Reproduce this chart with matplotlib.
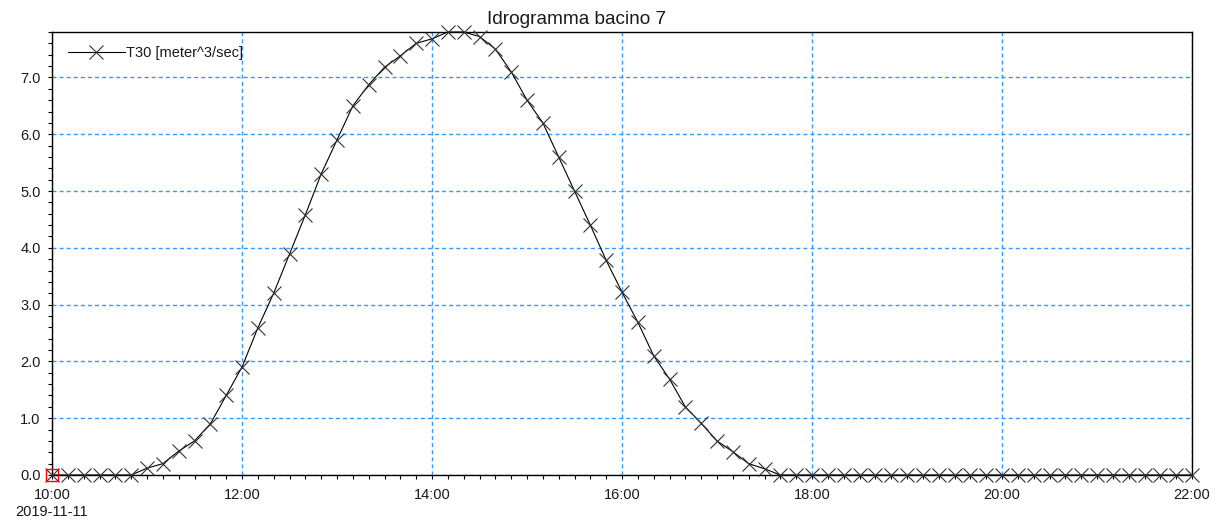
import numpy as np
import pandas as pd
import matplotlib
matplotlib.use("Agg")
import matplotlib.pyplot as plt
import matplotlib.dates as mdates
from matplotlib.ticker import MultipleLocator, FixedLocator

# portate ogni 10 minuti, 10:00 -> 22:00
start = "2019-11-11 10:00"
end = "2019-11-11 22:00"
portata = [
    0.0, 0.0, 0.0, 0.0, 0.0, 0.0, 0.12, 0.2, 0.42, 0.6,
    0.9, 1.4, 1.9, 2.59, 3.2, 3.89, 4.58, 5.3, 5.9, 6.5,
    6.87, 7.18, 7.38, 7.6, 7.68, 7.8, 7.8, 7.72, 7.5, 7.1,
    6.6, 6.2, 5.6, 5.0, 4.4, 3.78, 3.22, 2.69, 2.1, 1.69,
    1.2, 0.91, 0.6, 0.41, 0.2, 0.11, 0.0, 0.0, 0.0, 0.0,
    0.0, 0.0, 0.0, 0.0, 0.0, 0.0, 0.0, 0.0, 0.0, 0.0,
    0.0, 0.0, 0.0, 0.0, 0.0, 0.0, 0.0, 0.0, 0.0, 0.0,
    0.0, 0.0, 0.0,
]
tempi = pd.date_range(start, end, freq="10min")
serie = "T30 [meter^3/sec]"
titolo = "Idrogramma bacino 7"

plt.rcParams['font.family'] = ['Liberation Sans', 'DejaVu Sans']
plt.rcParams['font.size'] = 10.5
text_col = '#1a1a1a'

fig = plt.figure(figsize=(12.17, 5.21), dpi=100)
ax = fig.add_axes([52 / 1217, 1 - 475 / 521, 1140 / 1217, 443 / 521])

x = mdates.date2num(tempi.to_pydatetime())
ax.plot(x, portata, color='black', lw=0.8, marker='x', ms=10.5,
        mec='#333333', mew=0.8, label=serie, clip_on=False, zorder=3)
ax.plot(x[0], portata[0], marker='s', ms=9, mfc='none', mec='red',
        mew=1.0, clip_on=False, zorder=4)

ax.set_xlim(x[0], x[-1])
ax.set_ylim(0, max(portata))

# griglia tratteggiata sui tick principali
ax.xaxis.set_major_locator(mdates.HourLocator(byhour=range(0, 24, 2)))
ax.xaxis.set_minor_locator(mdates.MinuteLocator(byminute=range(0, 60, 10)))
ax.yaxis.set_major_locator(FixedLocator(np.arange(0, 7.01, 1.0)))
ax.yaxis.set_minor_locator(MultipleLocator(0.2))

def fmt_x(v, pos):
    d = mdates.num2date(v)
    lab = d.strftime('%H:%M')
    if pos == 0:
        lab += '\n' + d.strftime('%Y-%m-%d')
    return lab

ax.xaxis.set_major_formatter(plt.FuncFormatter(fmt_x))
ax.yaxis.set_major_formatter(plt.FuncFormatter(lambda v, p: f"{v:.1f}"))

ax.grid(True, which='major', color='#3399ff', lw=1.0, linestyle=(0, (2.9, 2.2)))
ax.tick_params(which='both', direction='out', length=3.2, width=0.8,
               labelcolor=text_col, labelsize=10.5)
ax.tick_params(axis='x', pad=6)
ax.tick_params(axis='y', pad=5)
for lab in ax.get_xticklabels():
    lab.set_linespacing(1.3)
for s in ax.spines.values():
    s.set_linewidth(1.0)
    s.set_color('black')

ax.legend(loc='upper left', bbox_to_anchor=(16 / 1140, 1 - 14 / 443),
          frameon=False, borderaxespad=0, borderpad=0, handlelength=3.9,
          handletextpad=0.1, fontsize=10.5, labelcolor=text_col)

fig.text(577 / 1217, 1 - 20 / 521, titolo, ha='center', va='center',
         fontsize=13.7, color=text_col)

fig.savefig('out.png', dpi=100)
